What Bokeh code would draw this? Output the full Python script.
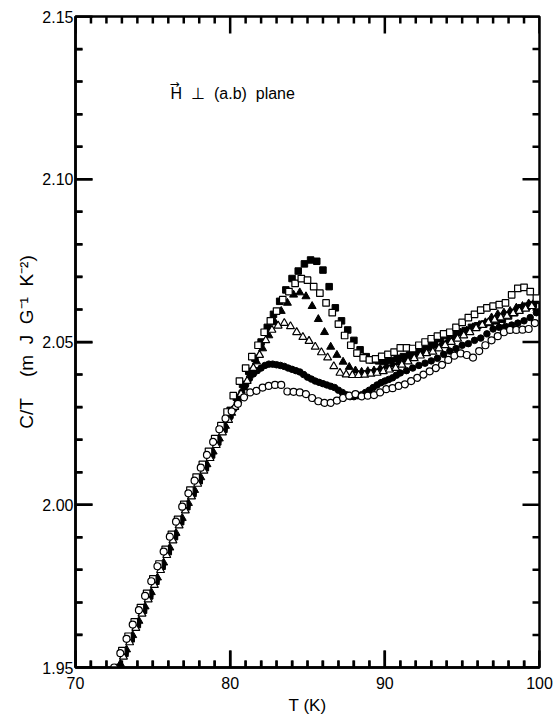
from bokeh.plotting import figure
from bokeh.models import Range1d, FixedTicker, NumeralTickFormatter, Label, BoxAnnotation
from bokeh.embed import file_html
from bokeh.resources import INLINE

# ---------------- data (T in K, C/T in mJ g^-1 K^-2) ----------------
open_circles = [
    (72.5, 1.9500), (72.9, 1.9544), (73.3, 1.9588), (73.7, 1.9632), (74.1, 1.9676),
    (74.5, 1.9720), (74.9, 1.9765), (75.3, 1.9811), (75.7, 1.9856), (76.1, 1.9902),
    (76.5, 1.9948), (76.9, 1.9994), (77.3, 2.0035), (77.7, 2.0074), (78.1, 2.0114),
    (78.5, 2.0153), (78.9, 2.0193), (79.3, 2.0232), (79.7, 2.0265), (80.1, 2.0287),
    (80.5, 2.0310), (80.9, 2.0330), (81.3, 2.0345), (81.7, 2.0350), (82.1, 2.0360),
    (82.5, 2.0365), (82.9, 2.0368), (83.3, 2.0368), (83.7, 2.0348), (84.1, 2.0347),
    (84.5, 2.0345), (84.9, 2.0340), (85.3, 2.0328), (85.7, 2.0318), (86.1, 2.0313),
    (86.5, 2.0313), (86.9, 2.0320), (87.3, 2.0328), (87.7, 2.0335), (88.1, 2.0340),
    (88.5, 2.0333), (88.9, 2.0335), (89.3, 2.0337), (89.7, 2.0345), (90.1, 2.0355),
    (90.5, 2.0358), (90.9, 2.0365), (91.3, 2.0370), (91.7, 2.0380), (92.1, 2.0390),
    (92.5, 2.0400), (92.9, 2.0410), (93.3, 2.0420), (93.7, 2.0430), (94.1, 2.0445),
    (94.5, 2.0458), (94.9, 2.0465), (95.3, 2.0460), (95.7, 2.0452), (96.1, 2.0472),
    (96.5, 2.0490), (96.9, 2.0505), (97.3, 2.0518), (97.7, 2.0530), (98.1, 2.0537),
    (98.5, 2.0537), (98.9, 2.0538), (99.3, 2.0540), (99.7, 2.0558),
]

filled_circles = [
    (73.2, 1.9544), (73.6, 1.9588), (74.0, 1.9632), (74.4, 1.9676), (74.8, 1.9720),
    (75.2, 1.9765), (75.6, 1.9811), (76.0, 1.9856), (76.4, 1.9902), (76.8, 1.9948),
    (77.2, 1.9994), (77.6, 2.0035), (78.0, 2.0074), (78.4, 2.0114), (78.8, 2.0153),
    (79.2, 2.0193), (79.6, 2.0232), (80.0, 2.0270), (80.25, 2.0295), (80.5, 2.0320),
    (80.75, 2.0345), (81.0, 2.0368), (81.25, 2.0388), (81.5, 2.0402), (81.75, 2.0412),
    (82.0, 2.0420), (82.25, 2.0428), (82.5, 2.0432), (82.75, 2.0432), (83.0, 2.0430),
    (83.25, 2.0428), (83.5, 2.0425), (83.75, 2.0420), (84.0, 2.0416), (84.25, 2.0412),
    (84.5, 2.0408), (84.75, 2.0400), (85.0, 2.0392), (85.25, 2.0386), (85.5, 2.0380),
    (85.75, 2.0376), (86.0, 2.0372), (86.25, 2.0368), (86.5, 2.0364), (86.75, 2.0360),
    (87.0, 2.0352), (87.25, 2.0345), (87.5, 2.0338), (87.75, 2.0332), (88.0, 2.0332),
    (88.25, 2.0335), (88.5, 2.0338), (88.75, 2.0345), (89.0, 2.0352), (89.25, 2.0360),
    (89.5, 2.0368), (89.75, 2.0375), (90.0, 2.0380), (90.25, 2.0385), (90.5, 2.0390),
    (90.75, 2.0398), (91.0, 2.0405), (91.4, 2.0412), (91.8, 2.0420), (92.2, 2.0428),
    (92.6, 2.0435), (93.0, 2.0442), (93.4, 2.0450), (93.8, 2.0462), (94.2, 2.0472),
    (94.6, 2.0480), (95.0, 2.0490), (95.4, 2.0495), (95.8, 2.0505), (96.2, 2.0512),
    (96.6, 2.0525), (97.0, 2.0540), (97.4, 2.0545), (97.8, 2.0548), (98.2, 2.0552),
    (98.6, 2.0558), (99.0, 2.0565), (99.4, 2.0575), (99.8, 2.0590),
]

open_triangles = [
    (73.1, 1.9533), (73.5, 1.9577), (73.9, 1.9621), (74.3, 1.9665), (74.7, 1.9709),
    (75.1, 1.9753), (75.5, 1.9799), (75.9, 1.9845), (76.3, 1.9890), (76.7, 1.9936),
    (77.1, 1.9982), (77.5, 2.0025), (77.9, 2.0064), (78.3, 2.0104), (78.7, 2.0143),
    (79.1, 2.0183), (79.5, 2.0222), (79.9, 2.0260), (80.3, 2.0300), (80.7, 2.0340),
    (81.1, 2.0380), (81.5, 2.0420), (81.9, 2.0460), (82.3, 2.0505), (82.7, 2.0537),
    (83.1, 2.0550), (83.5, 2.0558), (83.9, 2.0548), (84.3, 2.0530), (84.7, 2.0515),
    (85.1, 2.0503), (85.5, 2.0485), (85.9, 2.0468), (86.3, 2.0452), (86.7, 2.0425),
    (87.1, 2.0405), (87.5, 2.0400), (87.9, 2.0398), (88.3, 2.0398), (88.7, 2.0399),
    (89.1, 2.0402), (89.5, 2.0405), (89.9, 2.0410), (90.3, 2.0415), (90.7, 2.0420),
    (91.1, 2.0430), (91.5, 2.0440), (91.9, 2.0450), (92.3, 2.0458), (92.7, 2.0465),
    (93.1, 2.0470), (93.5, 2.0480), (93.9, 2.0490), (94.3, 2.0500), (94.7, 2.0510),
    (95.1, 2.0520), (95.5, 2.0530), (95.9, 2.0542), (96.3, 2.0552), (96.7, 2.0560),
    (97.1, 2.0568), (97.5, 2.0575), (97.9, 2.0580), (98.3, 2.0588), (98.7, 2.0595),
    (99.1, 2.0602), (99.5, 2.0610),
]

filled_triangles = [
    (72.9, 1.9511), (73.3, 1.9555), (73.7, 1.9599), (74.1, 1.9643), (74.5, 1.9687),
    (74.9, 1.9731), (75.3, 1.9776), (75.7, 1.9822), (76.1, 1.9868), (76.5, 1.9913),
    (76.9, 1.9959), (77.3, 2.0005), (77.7, 2.0045), (78.1, 2.0084), (78.5, 2.0124),
    (78.9, 2.0163), (79.3, 2.0203), (79.7, 2.0242), (80.1, 2.0282), (80.5, 2.0320),
    (80.9, 2.0360), (81.3, 2.0400), (81.7, 2.0440), (82.1, 2.0480), (82.5, 2.0520),
    (82.9, 2.0560), (83.3, 2.0595), (83.7, 2.0620), (84.1, 2.0645), (84.5, 2.0652),
    (84.9, 2.0640), (85.3, 2.0610), (85.7, 2.0570), (86.1, 2.0530), (86.5, 2.0485),
    (86.9, 2.0460), (87.3, 2.0439), (87.7, 2.0423), (88.1, 2.0412), (88.5, 2.0408),
    (88.9, 2.0410), (89.3, 2.0412), (89.7, 2.0418), (90.1, 2.0425), (90.5, 2.0430),
    (90.9, 2.0438), (91.3, 2.0445), (91.7, 2.0455), (92.1, 2.0460), (92.5, 2.0470),
    (92.9, 2.0480), (93.3, 2.0488), (93.7, 2.0495), (94.1, 2.0505), (94.5, 2.0515),
    (94.9, 2.0528), (95.3, 2.0535), (95.7, 2.0545), (96.1, 2.0552), (96.5, 2.0560),
    (96.9, 2.0575), (97.3, 2.0585), (97.7, 2.0590), (98.1, 2.0595), (98.5, 2.0605),
    (98.9, 2.0610), (99.3, 2.0618), (99.7, 2.0625),
]

open_squares = [
    (73.0, 1.9552), (73.4, 1.9596), (73.8, 1.9640), (74.2, 1.9684), (74.6, 1.9728),
    (75.0, 1.9772), (75.4, 1.9818), (75.8, 1.9863), (76.2, 1.9909), (76.6, 1.9955),
    (77.0, 2.0001), (77.4, 2.0045), (77.8, 2.0085), (78.2, 2.0124), (78.6, 2.0164),
    (79.0, 2.0203), (79.4, 2.0243), (79.8, 2.0285), (80.2, 2.0335), (80.6, 2.0380),
    (81.0, 2.0420), (81.4, 2.0455), (81.8, 2.0490), (82.2, 2.0530), (82.6, 2.0565),
    (83.0, 2.0595), (83.4, 2.0630), (83.8, 2.0655), (84.2, 2.0680), (84.6, 2.0695),
    (85.0, 2.0690), (85.4, 2.0670), (85.8, 2.0650), (86.2, 2.0620), (86.6, 2.0590),
    (87.0, 2.0555), (87.4, 2.0520), (87.8, 2.0490), (88.2, 2.0466), (88.6, 2.0451),
    (89.0, 2.0445), (89.4, 2.0448), (89.8, 2.0456), (90.2, 2.0462), (90.6, 2.0469),
    (91.0, 2.0482), (91.4, 2.0482), (91.8, 2.0480), (92.2, 2.0490), (92.6, 2.0500),
    (93.0, 2.0510), (93.4, 2.0518), (93.8, 2.0525), (94.2, 2.0530), (94.6, 2.0545),
    (95.0, 2.0560), (95.4, 2.0575), (95.8, 2.0585), (96.2, 2.0598), (96.6, 2.0605),
    (97.0, 2.0610), (97.4, 2.0615), (97.8, 2.0620), (98.2, 2.0645), (98.6, 2.0665),
    (99.0, 2.0668), (99.4, 2.0655), (99.8, 2.0635),
]

filled_squares = [
    (72.8, 1.9500), (73.2, 1.9544), (73.6, 1.9588), (74.0, 1.9632), (74.4, 1.9676),
    (74.8, 1.9720), (75.2, 1.9765), (75.6, 1.9811), (76.0, 1.9856), (76.4, 1.9902),
    (76.8, 1.9948), (77.2, 1.9994), (77.6, 2.0035), (78.0, 2.0074), (78.4, 2.0114),
    (78.8, 2.0153), (79.2, 2.0193), (79.6, 2.0232), (80.0, 2.0290), (80.4, 2.0330),
    (80.8, 2.0370), (81.2, 2.0410), (81.6, 2.0450), (82.0, 2.0500), (82.4, 2.0545),
    (82.8, 2.0585), (83.2, 2.0625), (83.6, 2.0660), (84.0, 2.0695), (84.4, 2.0718),
    (84.8, 2.0740), (85.2, 2.0752), (85.6, 2.0748), (86.0, 2.0721), (86.4, 2.0670),
    (86.8, 2.0605), (87.2, 2.0565), (87.6, 2.0537), (88.0, 2.0505), (88.4, 2.0476),
    (88.8, 2.0455), (89.2, 2.0445), (89.6, 2.0442), (90.0, 2.0440), (90.4, 2.0443),
    (90.8, 2.0450), (91.2, 2.0455), (91.6, 2.0460), (92.0, 2.0470), (92.4, 2.0480),
    (92.8, 2.0488), (93.2, 2.0495), (93.6, 2.0510), (94.0, 2.0520), (94.4, 2.0525),
    (94.8, 2.0530), (95.2, 2.0535), (95.6, 2.0545), (96.0, 2.0550), (96.4, 2.0555),
    (96.8, 2.0560), (97.2, 2.0565), (97.6, 2.0570), (98.0, 2.0580), (98.4, 2.0590),
    (98.8, 2.0605), (99.2, 2.0610), (99.6, 2.0615),
]

x_major_ticks = [70.0, 80.0, 90.0, 100.0]
x_minor_ticks = [71.0, 72.0, 73.0, 74.0, 75.0, 76.0, 77.0, 78.0, 79.0,
                 81.0, 82.0, 83.0, 84.0, 85.0, 86.0, 87.0, 88.0, 89.0,
                 91.0, 92.0, 93.0, 94.0, 95.0, 96.0, 97.0, 98.0, 99.0]
y_major_ticks = [1.95, 2.00, 2.05, 2.10, 2.15]
y_minor_ticks = [1.96, 1.97, 1.98, 1.99, 2.01, 2.02, 2.03, 2.04, 2.06, 2.07,
                 2.08, 2.09, 2.11, 2.12, 2.13, 2.14]

NB = "\u00a0"
x_title = "T (K)"
y_title = "C/T" + NB * 4 + "(m" + NB * 2 + "J" + NB * 2 + "G⁻¹" + NB * 2 + "K⁻²)"
annotation = "H" + NB * 2 + "⊥" + NB * 2 + "(a.b)" + NB * 2 + "plane"

FONT = "Liberation Sans"
X0, X1 = 70, 100
Y0, Y1 = 1.95, 2.15

W, H = 553, 717
BL, BR, BT, BB = 75, 14, 16, 50

# ---------------- figure ----------------
p = figure(width=W, height=H, output_backend="svg", toolbar_location=None,
           x_range=Range1d(X0, X1), y_range=Range1d(Y0, Y1),
           min_border_left=BL, min_border_right=BR, min_border_top=BT, min_border_bottom=BB,
           x_axis_label=x_title, y_axis_label=y_title)
p.xgrid.visible = False
p.ygrid.visible = False
p.outline_line_color = "black"
p.outline_line_width = 2.5
p.background_fill_color = "white"
p.border_fill_color = "white"

p.xaxis.ticker = FixedTicker(ticks=x_major_ticks, minor_ticks=x_minor_ticks)
p.yaxis.ticker = FixedTicker(ticks=y_major_ticks, minor_ticks=y_minor_ticks)

for ax in list(p.xaxis) + list(p.yaxis):
    ax.axis_line_color = "black"
    ax.axis_line_width = 2.5
    ax.major_tick_line_color = "black"
    ax.minor_tick_line_color = "black"
    ax.major_tick_line_width = 2
    ax.minor_tick_line_width = 2
    ax.major_tick_in = 17
    ax.major_tick_out = 0
    ax.minor_tick_in = 7
    ax.minor_tick_out = 0
    ax.major_label_text_font = FONT
    ax.major_label_text_font_size = "16px"
    ax.major_label_text_color = "black"
    ax.axis_label_text_font = FONT
    ax.axis_label_text_font_size = "17px"
    ax.axis_label_text_font_style = "normal"
    ax.axis_label_text_color = "black"

p.xaxis.major_label_standoff = 9
p.xaxis.axis_label_standoff = 4
p.yaxis.formatter = NumeralTickFormatter(format="0.00")
p.yaxis.major_label_standoff = 2
p.yaxis.axis_label_standoff = 2
p.yaxis.axis_label_text_font_size = "19px"


def xs(data):
    return [d[0] for d in data]


def ys(data):
    return [d[1] for d in data]


# filled symbols
p.scatter(xs(filled_circles), ys(filled_circles), marker="circle", size=6.5,
          fill_color="black", line_color="black", line_width=1)
p.scatter(xs(filled_triangles), ys(filled_triangles), marker="triangle", size=8,
          fill_color="black", line_color="black", line_width=1)
p.scatter(xs(filled_squares), ys(filled_squares), marker="square", size=6.5,
          fill_color="black", line_color="black", line_width=1)
# open symbols
p.scatter(xs(open_triangles), ys(open_triangles), marker="triangle", size=8,
          fill_color="white", line_color="black", line_width=1.2)
p.scatter(xs(open_squares), ys(open_squares), marker="square", size=6.5,
          fill_color="white", line_color="black", line_width=1.2)
p.scatter(xs(open_circles), ys(open_circles), marker="circle", size=7,
          fill_color="white", line_color="black", line_width=1.2)

# inward ticks on all four sides as annotation boxes (data-space, sized in pixels)
frame_w = W - BL - BR
frame_h = H - BT - BB
MAJ, MIN, THK = 17, 7, 2.5
ux = (X1 - X0) / frame_w   # data units per pixel, x
uy = (Y1 - Y0) / frame_h   # data units per pixel, y


def tick_box(left, right, bottom, top):
    p.add_layout(BoxAnnotation(left=left, right=right, bottom=bottom, top=top,
                               fill_color="black", fill_alpha=1.0,
                               line_color="black", line_alpha=0.0, level="overlay"))


for v in x_major_ticks:
    tick_box(v - 0.5 * THK * ux, v + 0.5 * THK * ux, Y0, Y0 + MAJ * uy)
    tick_box(v - 0.5 * THK * ux, v + 0.5 * THK * ux, Y1 - MAJ * uy, Y1)
for v in x_minor_ticks:
    tick_box(v - 0.5 * THK * ux, v + 0.5 * THK * ux, Y0, Y0 + MIN * uy)
    tick_box(v - 0.5 * THK * ux, v + 0.5 * THK * ux, Y1 - MIN * uy, Y1)
for v in y_major_ticks:
    tick_box(X0, X0 + MAJ * ux, v - 0.5 * THK * uy, v + 0.5 * THK * uy)
    tick_box(X1 - MAJ * ux, X1, v - 0.5 * THK * uy, v + 0.5 * THK * uy)
for v in y_minor_ticks:
    tick_box(X0, X0 + MIN * ux, v - 0.5 * THK * uy, v + 0.5 * THK * uy)
    tick_box(X1 - MIN * ux, X1, v - 0.5 * THK * uy, v + 0.5 * THK * uy)

p.add_layout(Label(x=76.15, y=2.1238, text=annotation, text_font=FONT,
                   text_font_size="16px", text_color="black"))
p.add_layout(Label(x=76.4, y=2.1294, text="→", text_font="DejaVu Sans",
                   text_font_size="12px", text_color="black",
                   text_align="center", text_baseline="middle"))

open("out.html", "w").write(file_html(p, INLINE))
